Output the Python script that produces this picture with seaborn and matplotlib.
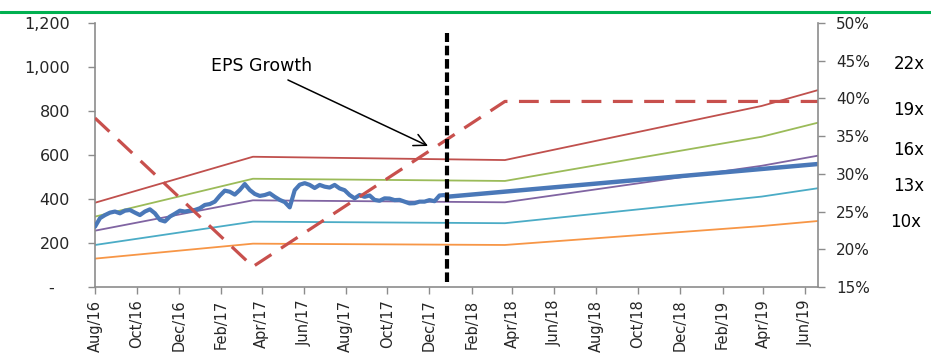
import numpy as np
import pandas as pd
import matplotlib
matplotlib.use("Agg")
import matplotlib.pyplot as plt
import matplotlib.dates as mdates
from matplotlib.lines import Line2D
from matplotlib.ticker import FuncFormatter, MultipleLocator
import seaborn as sns

# ---- data -------------------------------------------------------------
# Weekly share price, Aug 2016 - Dec 2017
price_start = "2016-08-01"
price_end = "2017-12-23"
price_values = [
    274, 313, 327, 338, 343, 335, 347, 350, 338, 327,
    343, 353, 335, 305, 298, 320, 333, 347, 343, 347,
    350, 358, 373, 377, 388, 415, 438, 433, 420, 441,
    468, 441, 423, 414, 418, 426, 410, 396, 386, 362,
    440, 465, 472, 464, 450, 464, 456, 452, 464, 448,
    440, 418, 403, 418, 410, 416, 396, 392, 403, 402,
    395, 396, 388, 380, 381, 388, 388, 395, 390, 416,
    418,
]

# Price target path after the forecast start
forecast_dates = ["2017-12-26", "2019-06-20"]
forecast_values = [410, 559]
forecast_start = "2017-12-26"

# P/E bands (fiscal year-end breakpoints)
band_dates = ["2016-08-01", "2017-03-19", "2018-03-21", "2019-03-30", "2019-06-20"]
band_22x = [383, 592, 577, 823, 895]
band_19x = [320, 492, 482, 683, 747]
band_16x = [256, 394, 385, 551, 597]
band_13x = [191, 297, 290, 411, 449]
band_10x = [129, 197, 191, 277, 300]
band_labels = ["22x", "19x", "16x", "13x", "10x"]

# EPS growth (right axis, %)
eps_dates = ["2016-08-01", "2017-03-19", "2018-03-21", "2019-06-20"]
eps_growth = [37.4, 17.7, 39.6, 39.6]

left_ticks = [0, 200, 400, 600, 800, 1000, 1200]
right_ticks = [15, 20, 25, 30, 35, 40, 45, 50]

# ---- styling ----------------------------------------------------------
sns.set_style("white")
plt.rcParams["font.family"] = ["DejaVu Sans"]

band_colors = {"22x": "#C0504D", "19x": "#9BBB59", "16x": "#8064A2",
               "13x": "#4BACC6", "10x": "#F79646"}
price_color = "#4A78B8"
eps_color = "#C8504D"
axis_grey = "#8C8C8C"

fig = plt.figure(figsize=(9.31, 3.53), dpi=100)
ax = fig.add_axes([95 / 931, 1 - 287 / 353, (818 - 95) / 931, (287 - 23) / 353])

# ---- valuation bands --------------------------------------------------
bands = pd.DataFrame({
    "date": pd.to_datetime(band_dates * 5),
    "value": band_22x + band_19x + band_16x + band_13x + band_10x,
    "band": np.repeat(band_labels, len(band_dates)),
})
sns.lineplot(data=bands, x="date", y="value", hue="band", palette=band_colors,
             linewidth=1.3, legend=False, ax=ax, zorder=2)

# ---- share price ------------------------------------------------------
price = pd.DataFrame({
    "date": pd.date_range(price_start, price_end, periods=len(price_values)),
    "value": price_values,
})
sns.lineplot(data=price, x="date", y="value", color=price_color,
             linewidth=3.0, ax=ax, zorder=3)
sns.lineplot(x=pd.to_datetime(forecast_dates), y=forecast_values,
             color=price_color, linewidth=3.2, ax=ax, zorder=3)

ax.set_xlim(pd.Timestamp("2016-08-01"), pd.Timestamp("2019-06-20"))
ax.set_ylim(left_ticks[0], left_ticks[-1])
ax.set_yticks(left_ticks)
ax.yaxis.set_major_formatter(FuncFormatter(
    lambda v, p: "-   " if v == 0 else f"{v:,.0f}"))
ax.xaxis.set_major_locator(mdates.MonthLocator(bymonth=[2, 4, 6, 8, 10, 12]))
ax.xaxis.set_major_formatter(mdates.DateFormatter("%b/%y"))
ax.set_xlabel("")
ax.set_ylabel("")

ax.tick_params(axis="y", direction="out", length=5, width=1, color=axis_grey,
               pad=13, labelsize=11.5, left=True)
ax.tick_params(axis="x", direction="out", length=5, width=1, color=axis_grey,
               pad=4, labelsize=10.5, labelrotation=90, bottom=True)

# ---- EPS growth on the right axis -------------------------------------
ax2 = ax.twinx()
sns.lineplot(x=pd.to_datetime(eps_dates), y=eps_growth, color=eps_color,
             linewidth=2.3, ax=ax2)
ax2.lines[-1].set_dashes([6.2, 3.6])
ax2.set_ylim(right_ticks[0], right_ticks[-1])
ax2.set_yticks(right_ticks)
ax2.yaxis.set_major_formatter(FuncFormatter(lambda v, p: f"{v:.0f}%"))
ax2.set_ylabel("")
ax2.tick_params(axis="y", direction="out", length=5, width=1, color=axis_grey,
                pad=8, labelsize=11, right=True)

for a in (ax, ax2):
    a.spines["top"].set_visible(False)
    for s in ("left", "right", "bottom"):
        a.spines[s].set_color(axis_grey)
        a.spines[s].set_linewidth(1.2)
ax.spines["right"].set_visible(False)
ax2.spines["left"].set_visible(False)
ax2.spines["bottom"].set_visible(False)

# forecast divider
ax2.axvline(pd.Timestamp(forecast_start), ymin=0.02, ymax=0.962, color="black",
            linewidth=3.0, linestyle=(0, (2.3, 0.9)), zorder=5)

# ---- annotation -------------------------------------------------------
arrow_tip = (mdates.date2num(pd.Timestamp("2017-11-29")), 641)
arrow_tail = (mdates.date2num(pd.Timestamp("2017-05-09")), 941)
ax2.annotate("", xy=arrow_tip, xycoords=ax.transData,
             xytext=arrow_tail, textcoords=ax.transData,
             arrowprops=dict(arrowstyle="->", color="black", lw=1.1,
                             mutation_scale=22, shrinkA=0, shrinkB=0))
ax.text(mdates.date2num(pd.Timestamp("2017-04-01")), 1006, "EPS Growth",
        ha="center", va="center", fontsize=12.5, color="black")

# multiple labels beside the right axis
label_y = [64, 110, 150, 186, 222]
label_x = [909, 909, 909, 909, 906]
for lbl, lx, ly in zip(band_labels, label_x, label_y):
    fig.text(lx / 931, 1 - ly / 353, lbl, ha="center", va="center",
             fontsize=12, color="black")

# header rule
fig.add_artist(Line2D([0, 1], [1 - 11.5 / 353] * 2, transform=fig.transFigure,
                      color="#00B050", linewidth=2.2))

fig.savefig("out.png", dpi=100)
